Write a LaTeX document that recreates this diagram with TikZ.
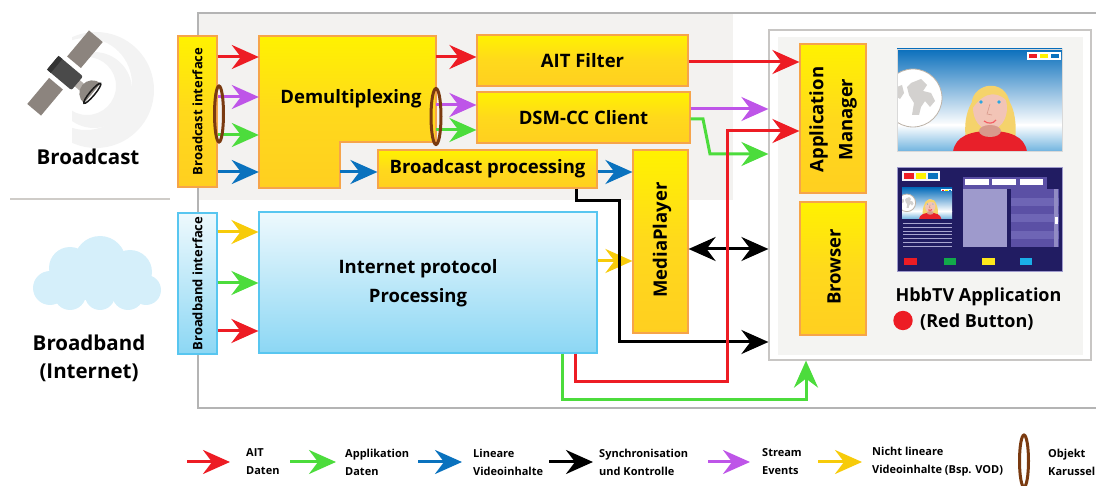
\documentclass[tikz,border=0pt]{standalone}
\usepackage{fontspec}
\setmainfont{Open Sans}
\usetikzlibrary{arrows.meta}

% connector colours
\definecolor{cRed}{HTML}{ED1C24}
\definecolor{cGreen}{HTML}{4CDC3C}
\definecolor{cBlue}{HTML}{0A72BE}
\definecolor{cPurple}{HTML}{BE55E8}
\definecolor{cYellow}{HTML}{F7CB0A}
\definecolor{cBrown}{HTML}{7A3A10}
% box colours
\definecolor{yTop}{HTML}{FFF200}
\definecolor{yMid}{HTML}{FFD91C}
\definecolor{yBot}{HTML}{FFCF20}
\definecolor{yEdge}{HTML}{F6A44A}
\definecolor{bTop}{HTML}{EEF9FD}
\definecolor{bBot}{HTML}{8CD7F4}
\definecolor{bEdge}{HTML}{58C6F0}
% frames and backgrounds
\definecolor{frameGray}{HTML}{B4B4B4}
\definecolor{bgGray}{HTML}{F3F2F0}
\definecolor{sepGray}{HTML}{CFCCC8}
\definecolor{panelEdge}{HTML}{C8C6C4}
\definecolor{panelFill}{HTML}{F4F4F2}
\definecolor{haze}{HTML}{F3F3F3}
\definecolor{cloudBlue}{HTML}{D5EFFA}
% satellite
\definecolor{satPanel}{HTML}{8C847E}
\definecolor{satBody}{HTML}{4A4A4A}
\definecolor{satDish}{HTML}{8E8882}
\definecolor{satNeck}{HTML}{B5B0AB}
% TV pictures
\definecolor{skyTop}{HTML}{0A6FBC}
\definecolor{skyBot}{HTML}{6FB3DF}
\definecolor{moonEdge}{HTML}{BDB3A8}
\definecolor{moonSpot}{HTML}{D3D1CF}
\definecolor{hair}{HTML}{F5D36B}
\definecolor{skin}{HTML}{F2C4B6}
\definecolor{skinDark}{HTML}{D89A8C}
\definecolor{shirt}{HTML}{E8202A}
\definecolor{eyeBlue}{HTML}{2BA6E1}
\definecolor{tvNavy}{HTML}{211C62}
\definecolor{tvLav}{HTML}{9E9ACC}
\definecolor{tvPurple}{HTML}{5B50A5}
\definecolor{tvPurpleL}{HTML}{6E65B5}
\definecolor{tvLine}{HTML}{A9A6D0}
\definecolor{btnGreen}{HTML}{12A84A}
\definecolor{btnCyan}{HTML}{1AAEE8}
\definecolor{btnYellow}{HTML}{FFE81A}

\newcommand{\bxfont}{\fontsize{18.5}{29}\selectfont\bfseries}
\newcommand{\ifcfont}{\fontsize{13}{15}\selectfont\bfseries}
\newcommand{\lblfont}{\fontsize{20.5}{28}\selectfont\bfseries}
\newcommand{\lgfont}{\fontsize{11}{18}\selectfont\bfseries}

% a TV picture: sky, moon, girl and colour keys, in a 165 x 102 frame
\newcommand{\tvscene}{%
  \begin{scope}
    \clip (0,0) rectangle (165,102);
    \shade[top color=skyTop, bottom color=white] (0,0) rectangle (165,76);
    \shade[top color=white, bottom color=skyBot] (0,76) rectangle (165,102.5);
    \filldraw[fill=white, draw=moonEdge, line width=0.8pt] (16,49) circle[radius=29];
    \fill[moonSpot] (14,34) -- (24,30) -- (30,36) -- (26,42) -- (34,44) -- (38,52)
      -- (33,58) -- (28,52) -- (24,58) -- (22,66) -- (15,66) -- (17,54) -- (12,46) -- (10,38) -- cycle;
    \fill[moonSpot] (0,38) -- (5,36) -- (7,44) -- (3,50) -- (0,48) -- cycle;
    \fill[hair] (69,92) .. controls (60,28) and (126,20) .. (118,92) -- cycle;
    \fill[skinDark] (85,72) rectangle (101,90);
    \fill[skin] (93,59) ellipse[x radius=17, y radius=22];
    \fill[hair] (75,60) .. controls (70,34) and (110,26) .. (113,56)
      .. controls (104,42) and (88,40) .. (75,60) -- cycle;
    \fill[eyeBlue] (84,53) circle[radius=1.8];
    \fill[eyeBlue] (102,53) circle[radius=1.8];
    \draw[skinDark, line width=0.6pt] (93,55) -- (90,65) -- (95,66);
    \draw[cRed!70, line width=1.2pt] (87,72) .. controls (91,75) and (96,75) .. (99,71);
    \fill[shirt] (56,103) .. controls (58,87) and (74,82) .. (93,82)
      .. controls (112,82) and (128,87) .. (130,103) -- cycle;
    \fill[skinDark] (93,82) ellipse[x radius=11, y radius=6];
    \fill[white] (130,3) rectangle (164,11);
    \fill[cRed] (132,5) rectangle (140,9.5);
    \fill[yTop] (143,5) rectangle (151,9.5);
    \fill[cBlue] (154,5) rectangle (162,9.5);
  \end{scope}}

\begin{document}
\begin{tikzpicture}[x=1pt, y=-1pt,
  ybox/.style={draw=yEdge, line width=1.2pt, top color=yTop, bottom color=yBot,
    middle color=yMid, inner sep=0pt, font=\bxfont},
  bbox/.style={draw=bEdge, line width=1.2pt, top color=bTop, bottom color=bBot,
    inner sep=0pt, font=\bxfont},
  vtext/.style={rotate=90, inner sep=0pt},
  flow/.style={line width=3pt, -{Stealth[length=27pt, width=24pt, inset=9pt]}},
  flowboth/.style={line width=3pt,
    {Stealth[length=27pt, width=24pt, inset=9pt]}-{Stealth[length=27pt, width=24pt, inset=9pt]}},
  carousel/.style={draw=cBrown, line width=3pt},
  legtext/.style={anchor=west, align=left, font=\lgfont, inner sep=0pt},
]
\useasboundingbox (0,0) rectangle (1096,486);

% ---------- left column: sources ----------
% faint signal waves behind the satellite
\begin{scope}
  \clip (72,20) rectangle (180,160);
  \fill[haze, even odd rule] (96,90) circle[radius=58] (86,84) circle[radius=46];
  \fill[haze, even odd rule] (94,90) circle[radius=38] (87,86) circle[radius=29];
\end{scope}
\begin{scope}[shift={(65,73)}, rotate=-40]
  \fill[satPanel] (-9,14) rectangle (9,48);
  \fill[satPanel] (-9,-48) rectangle (9,-14);
  \fill[satNeck] (14,-4) rectangle (24,4);
  \fill[satBody, rounded corners=2pt] (-16,-9) rectangle (16,9);
  \fill[black!80] (-16,-9) rectangle (-11,9);
  \fill[satDish] (34,-15) arc[start angle=270, end angle=90, radius=13] -- cycle;
  \draw[black!90, line width=1.5pt] (34,-2) ellipse[x radius=2.5, y radius=13];
\end{scope}
\node[font=\lblfont] (bclabel) at (88,157) {Broadcast};
\draw[sepGray, line width=1.5pt] (10,199) -- (170,199);

% cloud
\begin{scope}[cloudBlue]
  \fill (70,268) circle[radius=21];
  \fill (100,262) circle[radius=26];
  \fill (130,272) circle[radius=22];
  \fill (146,290) circle[radius=15];
  \fill (50,288) circle[radius=17];
  \fill (70,294) circle[radius=16];
  \fill (100,295) circle[radius=15];
  \fill (128,294) circle[radius=16];
  \fill (55,275) rectangle (145,300);
\end{scope}
\node[font=\lblfont, align=center] (bblabel) at (89,358) {Broadband\\(Internet)};

% ---------- receiver frame ----------
\fill[bgGray] (198,13) rectangle (733,200);
\draw[frameGray, line width=1.2pt] (1100,13) -- (198,13) -- (198,408) -- (1100,408);

% broadcast chain
\node[ybox, minimum width=39pt, minimum height=151pt] (bci) at (197.5,111.5) {};
\node[vtext, font=\ifcfont] (bcitext) at (bci) {Broadcast interface};
\path[draw=yEdge, line width=1.2pt, top color=yTop, bottom color=yBot, middle color=yMid]
  (259,36) -- (436,36) -- (436,142) -- (340,142) -- (340,188) -- (259,188) -- cycle;
\node[inner sep=0pt, minimum width=177pt, minimum height=106pt] (demux) at (347.5,89) {};
\node[font=\bxfont] (demuxtext) at (351,99) {Demultiplexing};
\coordinate (demuxlow) at (340,172);
\node[ybox, minimum width=211pt, minimum height=51pt] (ait) at (582.5,60.5) {AIT Filter};
\node[ybox, minimum width=213pt, minimum height=51pt] (dsm) at (583.5,117.5) {DSM-CC Client};
\node[ybox, minimum width=219pt, minimum height=38pt] (bproc) at (487.5,169) {Broadcast processing};
\node[ybox, minimum width=55pt, minimum height=183pt] (mp) at (660.5,241.5) {};
\node[vtext, font=\bxfont] (mptext) at (662,240) {MediaPlayer};

% broadband chain
\node[bbox, minimum width=39pt, minimum height=141pt] (bbi) at (197.5,283.5) {};
\node[vtext, font=\ifcfont] (bbitext) at (bbi) {Broadband interface};
\node[bbox, minimum width=338pt, minimum height=141pt] (ipp) at (428,282.5) {};
\node[font=\bxfont, align=center] (ipptext) at (418,283) {Internet protocol\\Processing};

% ---------- HbbTV terminal ----------
\node[draw=panelEdge, fill=white, line width=1.2pt, minimum width=322pt,
  minimum height=330pt, inner sep=0pt] (panel) at (930,195) {};
\node[fill=panelFill, minimum width=305pt, minimum height=318pt, inner sep=0pt]
  (panelin) at (930.5,196) {};
\node[ybox, minimum width=66pt, minimum height=149pt] (appm) at (833,118.5) {};
\node[vtext, font=\bxfont, align=center] (appmtext) at (833,119.5) {Application\\Manager};
\node[ybox, minimum width=66pt, minimum height=133pt] (browser) at (833,268.5) {};
\node[vtext, font=\bxfont] (browsertext) at (834,267) {Browser};

% TV picture
\begin{scope}[shift={(897,49)}]
  \tvscene
\end{scope}
\draw[black!15, line width=0.6pt] (897,49) rectangle (1062,151);

% HbbTV portal page
\fill[tvNavy] (897,167) rectangle (1062,271);
\draw[tvLav, line width=0.8pt] (897,167) rectangle (1062,271);
\fill[white!90!tvLav] (902,171) rectangle (940,181);
\fill[cRed] (904,173) rectangle (914,179);
\fill[yTop] (916,173) rectangle (926,179);
\fill[cBlue] (928,173) rectangle (938,179);
\begin{scope}[shift={(902,188)}, scale=0.303]
  \tvscene
\end{scope}
\foreach \yy in {223,227,231,234.5,238,242,246}
  \draw[tvLine, line width=0.9pt] (903,\yy) -- (952,\yy);
\fill[tvPurple] (963.3,176.7) rectangle (1046.7,189.3);
\fill[white] (965.3,179.3) rectangle (989.3,185);
\fill[white] (992,179.3) rectangle (1016,185);
\fill[white] (1019.7,179.3) rectangle (1043.3,185);
\fill[tvLav] (963.3,189.3) rectangle (1006.7,247.3);
\fill[tvPurple] (1010.7,189.3) rectangle (1059,247.3);
\foreach \yy in {197.6,214.2,230.8}
  \fill[tvPurpleL] (1010.7,\yy) rectangle (1059,\yy+8.3);
\fill[tvLav!80!tvPurple] (1054.3,189.3) rectangle (1058.3,247.3);
\fill[white] (1055,217.3) rectangle (1057.7,224);
\fill[cRed] (904,257.7) rectangle (916.7,265);
\fill[btnGreen] (944,257.7) rectangle (956,265);
\fill[btnYellow] (982.3,257.7) rectangle (995,265);
\fill[btnCyan] (1019.7,257.7) rectangle (1031.7,265);

\node[font=\fontsize{18}{22}\selectfont\bfseries] (hbbtitle) at (978.5,297) {HbbTV Application};
\fill[cRed] (903,320.5) circle[radius=9.7];
\node[font=\fontsize{18}{22}\selectfont\bfseries, anchor=west, inner sep=0pt] (redbtn) at (920,322) {(Red Button)};

% ---------- connectors ----------
\draw[flow, cRed] (bci.east |- 0,57) -- (demux.west |- 0,57);
\draw[flow, cPurple] (bci.east |- 0,97) -- (demux.west |- 0,97);
\draw[flow, cGreen] (bci.east |- 0,135) -- (demux.west |- 0,135);
\draw[flow, cBlue] (bci.east |- 0,172) -- (demux.west |- 0,172);
\draw[flow, cRed] (demux.east |- 0,57) -- (ait.west |- 0,57);
\draw[flow, cPurple] (demux.east |- 0,105) -- (dsm.west |- 0,105);
\draw[flow, cGreen] (demux.east |- 0,130) -- (dsm.west |- 0,130);
\draw[flow, cBlue] (demuxlow) -- (bproc.west |- demuxlow);
\draw[flow, cBlue] (bproc.east |- 0,172) -- (mp.west |- 0,172);
\draw[flow, cRed] (ait.east |- 0,62) -- (appm.west |- 0,62);
\draw[flow, cPurple] (dsm.east |- 0,109) -- (panel.west |- 0,109);
\draw[flow, cGreen] (dsm.east |- 0,119) -- (703,119) -- (710,154) -- (panel.west |- 0,154);

\draw[flow, cYellow] (bbi.east |- 0,232) -- (ipp.west |- 0,232);
\draw[flow, cGreen] (bbi.east |- 0,283) -- (ipp.west |- 0,283);
\draw[flow, cRed] (bbi.east |- 0,331) -- (ipp.west |- 0,331);
\draw[flow, cYellow] (ipp.east |- 0,261) -- (mp.west |- 0,261);

\draw[flow, black] (576,0 |- bproc.south) -- (576,201) -- (619,201) -- (619,342) -- (panel.west |- 0,342);
\draw[flowboth, black] (mp.east |- 0,249) -- (panel.west |- 0,249);
\draw[flow, cRed] (575,0 |- ipp.south) -- (575,382) -- (727,382) -- (727,131) -- (appm.west |- 0,131);
\draw[flow, cGreen] (562,0 |- ipp.south) -- (562,400) -- (806,400) -- (806,0 |- panel.south);

% object carousels
\draw[carousel] (219,114) ellipse[x radius=4.5, y radius=28];
\draw[carousel] (436,116.5) ellipse[x radius=5, y radius=28];

% ---------- legend ----------
\coordinate (l1a) at (187,462); \coordinate (l1b) at (230,462);
\coordinate (l2a) at (290,462); \coordinate (l2b) at (336,462);
\coordinate (l3a) at (418,462); \coordinate (l3b) at (462,462);
\coordinate (l4a) at (549,462); \coordinate (l4b) at (593,462);
\coordinate (l5a) at (708,462); \coordinate (l5b) at (750,462);
\coordinate (l6a) at (818,462); \coordinate (l6b) at (862,462);
\draw[flow, cRed] (l1a) -- (l1b);
\draw[flow, cGreen] (l2a) -- (l2b);
\draw[flow, cBlue] (l3a) -- (l3b);
\draw[flow, black] (l4a) -- (l4b);
\draw[flow, cPurple] (l5a) -- (l5b);
\draw[flow, cYellow] (l6a) -- (l6b);
\draw[carousel] (1024,461) ellipse[x radius=4.5, y radius=26];
\node[legtext] (leg1) at (246,462) {AIT\\Daten};
\node[legtext] (leg2) at (345,462) {Applikation\\Daten};
\node[legtext] (leg3) at (473,462) {Lineare\\Videoinhalte};
\node[legtext] (leg4) at (599,462) {Synchronisation\\und Kontrolle};
\node[legtext] (leg5) at (762,462) {Stream\\Events};
\node[legtext] (leg6) at (872,462) {Nicht lineare\\Videoinhalte (Bsp. VOD)};
\node[legtext] (leg7) at (1048,462) {Objekt\\Karussel};
\end{tikzpicture}
\end{document}
